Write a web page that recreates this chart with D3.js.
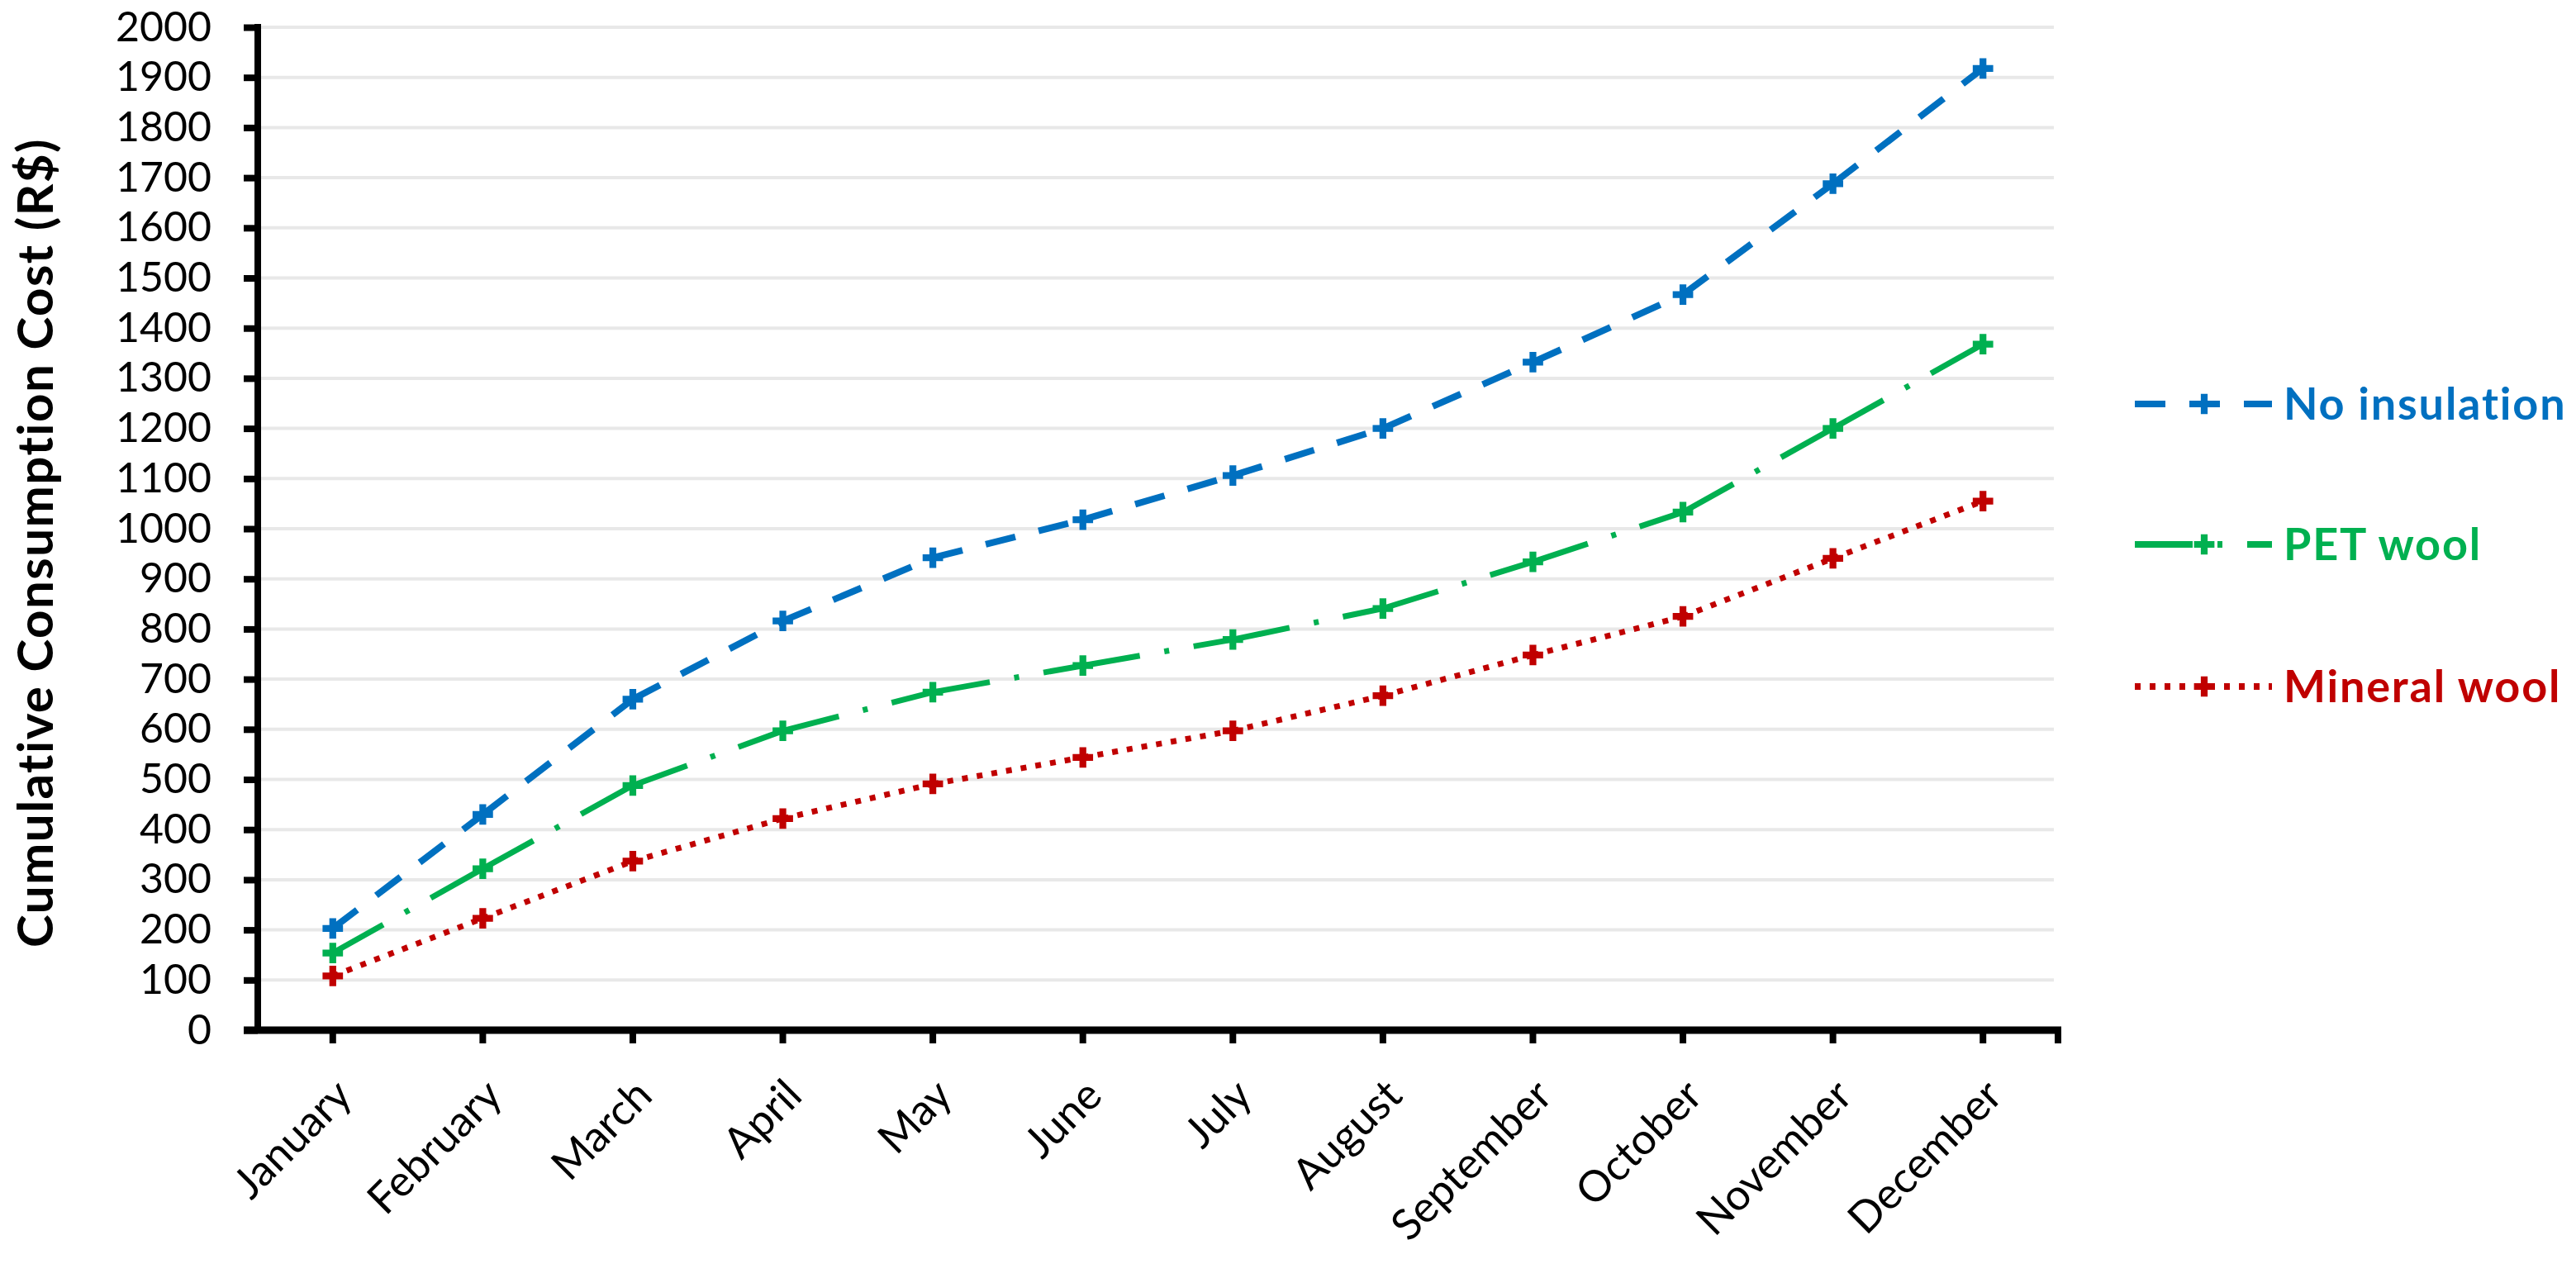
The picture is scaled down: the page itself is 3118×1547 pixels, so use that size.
<!DOCTYPE html>
<html>
<head>
<meta charset="utf-8">
<script src="https://cdn.jsdelivr.net/npm/d3@7"></script>
<style>
  html, body { margin: 0; padding: 0; background: #ffffff; }
  svg { display: block; }
  text { font-family: Lato, "Open Sans", sans-serif; }
</style>
</head>
<body>
<script>
// ---------------- data ----------------
const months = ["January", "February", "March", "April", "May", "June",
                "July", "August", "September", "October", "November", "December"];
const noInsulation = [203, 430, 660, 816, 942, 1018, 1106, 1200, 1332, 1467, 1688, 1918];
const petWool      = [154, 322, 488, 597, 674, 727, 779, 841, 934, 1033, 1200, 1368];
const mineralWool  = [108, 223, 337, 422, 491, 544, 597, 667, 748, 825, 941, 1055];
const seriesNames  = ["No insulation", "PET wool", "Mineral wool"];
const yTickValues  = [0, 100, 200, 300, 400, 500, 600, 700, 800, 900, 1000,
                      1100, 1200, 1300, 1400, 1500, 1600, 1700, 1800, 1900, 2000];
const yTitle = "Cumulative Consumption Cost (R$)";

// ---------------- layout ----------------
const W = 3118, H = 1547;
const pL = 312, pR = 2491, pT = 33, pB = 1247;

const svg = d3.select("body").append("svg")
  .attr("width", W).attr("height", H)
  .attr("viewBox", `0 0 ${W} ${H}`);
svg.append("rect").attr("width", W).attr("height", H).attr("fill", "#ffffff");

const x = d3.scaleBand().domain(months).range([pL, pR]).padding(0);
const y = d3.scaleLinear().domain([0, 2000]).range([pB, pT]);
const xc = m => x(m) + x.bandwidth() / 2;

// gridlines
svg.append("g").selectAll("line")
  .data(yTickValues.filter(v => v > 0))
  .join("line")
  .attr("x1", pL).attr("x2", pR - 5)
  .attr("y1", d => y(d)).attr("y2", d => y(d))
  .attr("stroke", "#e8e8e8").attr("stroke-width", 4);

// series definitions (styles)
const series = [
  { name: seriesNames[0], values: noInsulation, color: "#0070C0", width: 8, dash: "37,29" },
  { name: seriesNames[1], values: petWool,      color: "#00B050", width: 7, dash: "70,30,6,30" },
  { name: seriesNames[2], values: mineralWool,  color: "#C00000", width: 7, dash: "7,11" }
];

const line = d3.line().x(d => xc(d.m)).y(d => y(d.v));
const cross = d3.symbol().type(d3.symbolCross).size(340);

series.forEach(s => {
  const pts = months.map((m, i) => ({ m, v: s.values[i] }));
  const g = svg.append("g");
  // each segment restarts the dash pattern (Excel style)
  g.selectAll("path.seg")
    .data(d3.pairs(pts))
    .join("path")
    .attr("class", "seg")
    .attr("d", d => line(d))
    .attr("fill", "none")
    .attr("stroke", s.color)
    .attr("stroke-width", s.width)
    .attr("stroke-dasharray", s.dash);
  g.selectAll("path.mk")
    .data(pts)
    .join("path")
    .attr("class", "mk")
    .attr("d", cross)
    .attr("transform", d => `translate(${xc(d.m)},${y(d.v)})`)
    .attr("fill", s.color);
});

// axes
const yAxis = d3.axisLeft(y).tickValues(yTickValues).tickFormat(d3.format("d"))
  .tickSize(17).tickSizeOuter(0).tickPadding(39);
const gy = svg.append("g").attr("transform", `translate(${pL},0)`).call(yAxis);
gy.select(".domain").attr("stroke", "#000").attr("stroke-width", 8)
  .attr("d", `M0,${pT - 4}V${pB}`);
gy.selectAll(".tick line").attr("stroke", "#000").attr("stroke-width", 8);
gy.selectAll(".tick text").attr("font-size", 50).attr("fill", "#000")
  .attr("font-family", "Lato, sans-serif");

const xAxis = d3.axisBottom(x).tickSize(16).tickSizeOuter(0);
const gx = svg.append("g").attr("transform", `translate(0,${pB})`).call(xAxis);
gx.select(".domain").attr("stroke", "#000").attr("stroke-width", 9)
  .attr("d", `M${pL - 17},0H${pR + 4}`);
gx.selectAll(".tick line").attr("stroke", "#000").attr("stroke-width", 8);
gx.selectAll(".tick text")
  .attr("font-size", 52).attr("fill", "#000")
  .attr("font-family", "Lato, sans-serif")
  .attr("y", 0).attr("dy", null).attr("x", 0)
  .attr("text-anchor", "end")
  .attr("transform", "translate(26,82) rotate(-45)");
// closing tick at the right end of the category axis
gx.append("line")
  .attr("x1", pR).attr("x2", pR)
  .attr("y1", 0).attr("y2", 16)
  .attr("stroke", "#000").attr("stroke-width", 8);

// y axis title
svg.append("text")
  .attr("transform", `translate(64,${(pT + pB) / 2 + 17}) rotate(-90)`)
  .attr("text-anchor", "middle")
  .attr("font-size", 60).attr("font-weight", "bold").attr("fill", "#000")
  .attr("letter-spacing", 1.5)
  .text(yTitle);

// legend
const legY = [489, 659, 831];
const leg = svg.append("g");
series.forEach((s, i) => {
  const gl = leg.append("g").attr("transform", `translate(0,${legY[i]})`);
  gl.append("line")
    .attr("x1", 2584).attr("x2", 2750).attr("y1", 0).attr("y2", 0)
    .attr("stroke", s.color).attr("stroke-width", 8)
    .attr("stroke-dasharray", s.dash);
  gl.append("path").attr("d", cross).attr("transform", "translate(2668,0)").attr("fill", s.color);
  gl.append("text")
    .attr("x", 2764).attr("y", 19)
    .attr("font-size", 54).attr("font-weight", "bold").attr("fill", s.color)
    .attr("letter-spacing", 1.8)
    .text(s.name);
});
</script>
</body>
</html>
